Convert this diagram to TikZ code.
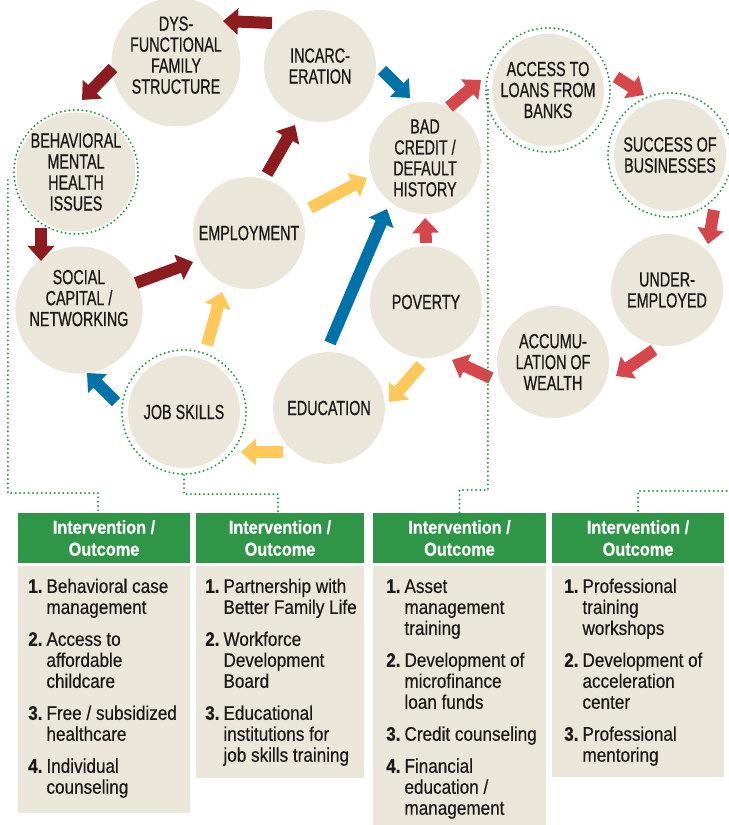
\documentclass[tikz,border=0pt]{standalone}
\usepackage{fontspec}
\setmainfont{Liberation Sans}
\newfontfamily\capfont{Liberation Sans}[FakeStretch=0.70,FakeBold=0.6]
\newfontfamily\listfont{Liberation Sans}[FakeStretch=0.87,FakeBold=0.4]
\usetikzlibrary{positioning}
\usetikzlibrary{calc}
\usetikzlibrary{arrows.meta}

\definecolor{bubblebg}{HTML}{EAE6DA}
\definecolor{darkred}{HTML}{8C1C20}
\definecolor{brightred}{HTML}{D6474B}
\definecolor{steelblue}{HTML}{0072AA}
\definecolor{sunyellow}{HTML}{FEC85A}
\definecolor{leafgreen}{HTML}{2E9646}

\tikzset{
  bubble/.style={circle, fill=bubblebg, minimum size=3.36cm, inner sep=0pt, align=center, text=black!90, font=\capfont\fontsize{17.5}{17.9}\selectfont},
  ring/.style={circle, draw=leafgreen, minimum size=3.72cm, line width=1.9pt, dash pattern=on 0pt off 3.7pt, line cap=round},
  greendots/.style={draw=leafgreen, line width=1.9pt, dash pattern=on 0pt off 3.7pt, line cap=round},
  flowarrow/.style={line width=0.36cm, -{Triangle[width=0.78cm,length=0.45cm]}},
  headbox/.style={fill=leafgreen, text=white, minimum height=1.5cm, inner sep=0pt, align=center, font=\listfont\bfseries\fontsize{16}{18.8}\selectfont},
  itemlist/.style={anchor=north west, inner sep=0pt, text=black!90, font=\listfont\fontsize{16.8}{17.9}\selectfont}
}

\begin{document}
\begin{tikzpicture}[x=0.03cm, y=-0.03cm]
\useasboundingbox (0,0) rectangle (728,825);

% the cycle
\node[bubble, text depth=0.42cm] (dys) at (176,62) {DYS-\\FUNCTIONAL\\FAMILY\\STRUCTURE};
\node[bubble] (inc) at (320,66) {INCARC-\\ERATION};
\node[bubble] (beh) at (76,172) {BEHAVIORAL\\MENTAL\\HEALTH\\ISSUES};
\node[bubble] (emp) at (249,233) {EMPLOYMENT};
\node[bubble, text depth=0.72cm] (soc) at (79,310) {SOCIAL\\CAPITAL /\\NETWORKING};
\node[bubble] (job) at (184,412) {JOB SKILLS};
\node[bubble] (edu) at (329,408) {EDUCATION};
\node[bubble] (bad) at (425,158) {BAD\\CREDIT /\\DEFAULT\\HISTORY};
\node[bubble] (pov) at (426,302) {POVERTY};
\node[bubble] (acc) at (548,90) {ACCESS TO\\LOANS FROM\\BANKS};
\node[bubble] (suc) at (670,155) {SUCCESS OF\\BUSINESSES};
\node[bubble] (und) at (667,290) {UNDER-\\EMPLOYED};
\node[bubble] (accu) at (553,362) {ACCUMU-\\LATION OF\\WEALTH};

% rings where an intervention applies
\node[ring] (behring) at (beh) {};
\node[ring] (jobring) at (job) {};
\node[ring] (accring) at (acc) {};
\node[ring] (sucring) at (suc) {};

% arrows
\draw[flowarrow, darkred] ($(inc)+(-48,-43)$) -- ($(dys)+(47,-41)$);
\draw[flowarrow, darkred] ($(dys)+(-63,6)$) -- ($(beh)+(6,-72)$);
\draw[flowarrow, darkred] ($(beh)+(-35,56)$) -- ($(soc)+(-38,-49)$);
\draw[flowarrow, darkred] ($(soc)+(57,-27)$) -- ($(emp)+(-56,29)$);
\draw[flowarrow, darkred] ($(emp)+(18,-59)$) -- ($(inc)+(-25,59)$);
\draw[flowarrow, steelblue] ($(inc)+(62,4)$) -- ($(bad)+(-15,-60)$);
\draw[flowarrow, sunyellow] ($(emp)+(61,-25)$) -- ($(bad)+(-58,20)$);
\draw[flowarrow, brightred] ($(bad)+(24,-51)$) -- ($(acc)+(-67,-10)$);
\draw[flowarrow, brightred] ($(acc)+(68,-13)$) -- ($(suc)+(-26,-60)$);
\draw[flowarrow, brightred] ($(suc)+(44,55)$) -- ($(und)+(41,-46)$);
\draw[flowarrow, brightred] ($(und)+(-13,60)$) -- ($(accu)+(63,14)$);
\draw[flowarrow, brightred] ($(accu)+(-62,16)$) -- ($(pov)+(26,58)$);
\draw[flowarrow, brightred] ($(pov)+(0,-59)$) -- ($(bad)+(0,60)$);
\draw[flowarrow, sunyellow] ($(pov)+(-5,63)$) -- ($(edu)+(60,-6)$);
\draw[flowarrow, sunyellow] ($(edu)+(-46,44)$) -- ($(job)+(57,40)$);
\draw[flowarrow, sunyellow] ($(job)+(23,-67)$) -- ($(emp)+(-27,59)$);
\draw[flowarrow, steelblue] ($(job)+(-68,-10)$) -- ($(soc)+(8,63)$);
\draw[flowarrow, steelblue] ($(edu)+(1,-65)$) -- ($(bad)+(-38,51)$);

% intervention boxes
\node[headbox, minimum width=5.16cm] (h1) at (104,538) {Intervention /\\Outcome};
\node[headbox, minimum width=5.04cm] (h2) at (280,538) {Intervention /\\Outcome};
\node[headbox, minimum width=5.19cm] (h3) at (459.5,538) {Intervention /\\Outcome};
\node[headbox, minimum width=5.16cm] (h4) at (638,538) {Intervention /\\Outcome};

\fill[bubblebg] (18,566) rectangle (190,813);
\fill[bubblebg] (196,566) rectangle (364,778);
\fill[bubblebg] (373,566) rectangle (546,825);
\fill[bubblebg] (552,566) rectangle (724,777);

\node[itemlist] (l1) at (28,578) {\begin{tabular}{@{}r@{\hspace{3.4pt}}l@{}}
\textbf{1.} & Behavioral case\\ & management\\[9.4pt]
\textbf{2.} & Access to\\ & affordable\\ & childcare\\[9.4pt]
\textbf{3.} & Free / subsidized\\ & healthcare\\[9.4pt]
\textbf{4.} & Individual\\ & counseling
\end{tabular}};
\node[itemlist] (l2) at (205,578) {\begin{tabular}{@{}r@{\hspace{3.4pt}}l@{}}
\textbf{1.} & Partnership with\\ & Better Family Life\\[9.4pt]
\textbf{2.} & Workforce\\ & Development\\ & Board\\[9.4pt]
\textbf{3.} & Educational\\ & institutions for\\ & job skills training
\end{tabular}};
\node[itemlist] (l3) at (386,578) {\begin{tabular}{@{}r@{\hspace{3.4pt}}l@{}}
\textbf{1.} & Asset\\ & management\\ & training\\[9.4pt]
\textbf{2.} & Development of\\ & microfinance\\ & loan funds\\[9.4pt]
\textbf{3.} & Credit counseling\\[9.4pt]
\textbf{4.} & Financial\\ & education /\\ & management
\end{tabular}};
\node[itemlist] (l4) at (564,578) {\begin{tabular}{@{}r@{\hspace{3.4pt}}l@{}}
\textbf{1.} & Professional\\ & training\\ & workshops\\[9.4pt]
\textbf{2.} & Development of\\ & acceleration\\ & center\\[9.4pt]
\textbf{3.} & Professional\\ & mentoring
\end{tabular}};

% dotted leads down to the boxes
\draw[greendots] ([shift={(-5,8)}]behring.west) -- ++(0,313) -| ([xshift=-0.18cm]h1.north);
\draw[greendots] (jobring.south) -- ++(0,19) -| ([xshift=-0.06cm]h2.north);
\draw[greendots] ([xshift=0.09cm]accring.west) -- ++(0,400) -| (h3.north);
\draw[greendots] (sucring.east) -- ++(0,336) -| (h4.north);
\end{tikzpicture}
\end{document}
